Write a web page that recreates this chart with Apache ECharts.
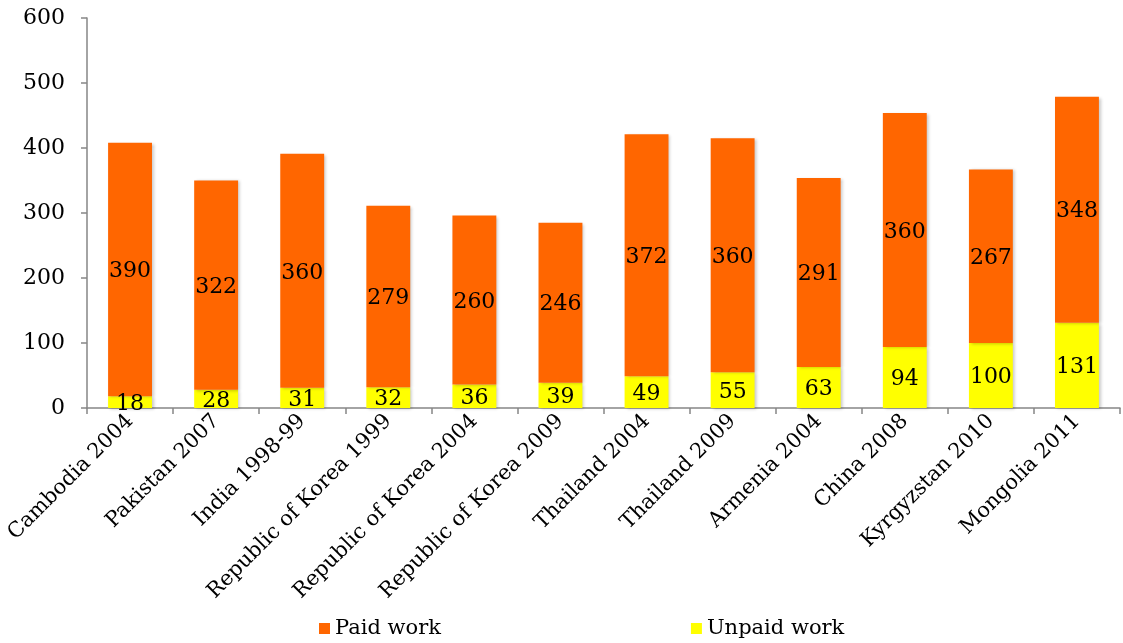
<!DOCTYPE html>
<html>
<head>
<meta charset="utf-8">
<script src="https://cdn.jsdelivr.net/npm/echarts@6/dist/echarts.min.js"></script>
<style>html,body{margin:0;padding:0;background:#fff}#c{width:1123px;height:643px}</style>
</head>
<body>
<div id="c"></div>
<script>
const categories = ['Cambodia 2004','Pakistan 2007','India 1998-99','Republic of Korea 1999','Republic of Korea 2004','Republic of Korea 2009','Thailand 2004','Thailand 2009','Armenia 2004','China 2008','Kyrgyzstan 2010','Mongolia 2011'];
const paidWork = [390,322,360,279,260,246,372,360,291,360,267,348];
const unpaidWork = [18,28,31,32,36,39,49,55,63,94,100,131];
const yTicks = [0,100,200,300,400,500,600];

const FONT = 'DejaVu Serif';
const chart = echarts.init(document.getElementById('c'), null, {renderer:'canvas'});
const barStyle = c => ({color:c, shadowColor:'rgba(0,0,0,0.22)', shadowBlur:3, shadowOffsetX:2, shadowOffsetY:1});
const lbl = {show:true, position:'inside', color:'#000', fontFamily:FONT, fontSize:22, offset:[0,2]};
chart.setOption({
  animation:false,
  grid:{left:87, right:3, top:18, bottom:235, containLabel:false},
  legend:{
    data:['Paid work','Unpaid work'], left:314, top:613, itemGap:250, itemWidth:11, itemHeight:11,
    icon:'rect', textStyle:{fontFamily:FONT, fontSize:21, color:'#000'}
  },
  xAxis:{
    type:'category', data:categories,
    axisLine:{lineStyle:{color:'#868686', width:1.5}},
    axisTick:{show:true, alignWithLabel:false, length:6, lineStyle:{color:'#868686', width:1.5}},
    axisLabel:{rotate:45, interval:0, color:'#000', fontFamily:FONT, fontSize:21, margin:10}
  },
  yAxis:{
    type:'value', min:yTicks[0], max:yTicks[yTicks.length-1], interval:100,
    splitLine:{show:false},
    axisLine:{show:true, lineStyle:{color:'#868686', width:1.5}},
    axisTick:{show:true, length:6, lineStyle:{color:'#868686', width:1.5}},
    axisLabel:{color:'#000', fontFamily:FONT, fontSize:22, margin:22}
  },
  series:[
    {name:'Unpaid work', type:'bar', stack:'t', data:unpaidWork, barWidth:'51%', itemStyle:barStyle('#FFFF00'), label:lbl},
    {name:'Paid work', type:'bar', stack:'t', data:paidWork, barWidth:'51%', itemStyle:barStyle('#FF6600'), label:lbl}
  ]
});
</script>
</body>
</html>
